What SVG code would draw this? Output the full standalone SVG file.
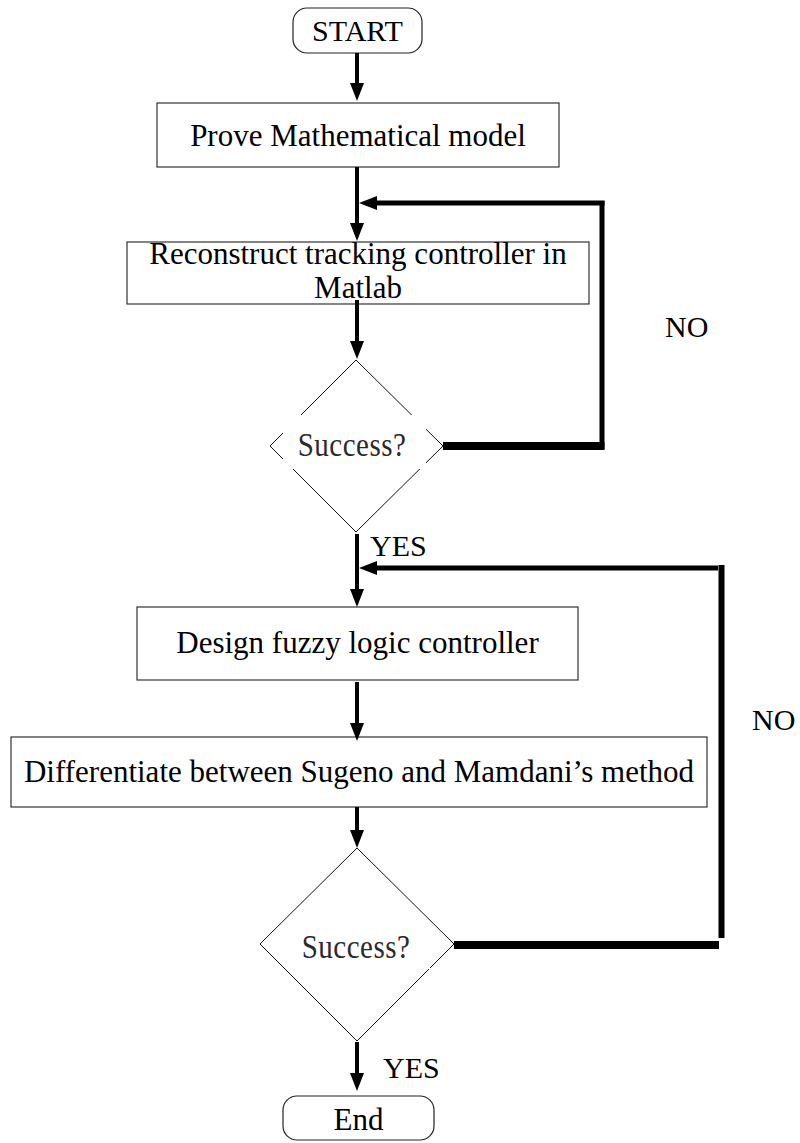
<svg xmlns="http://www.w3.org/2000/svg" width="800" height="1143" viewBox="0 0 800 1143">
<style>
.box{fill:#fff;stroke:#333;stroke-width:1.2}
.term{fill:#fff;stroke:#222;stroke-width:1.2}
.dia{fill:#fff;stroke:#111;stroke-width:1}
.lbl{font-family:"Liberation Serif","Times New Roman",serif;font-size:31px;fill:#000;text-anchor:middle}
.side{font-family:"Liberation Serif","Times New Roman",serif;font-size:30px;fill:#000}
.q{font-family:"Liberation Serif","Times New Roman",serif;font-size:29px;fill:#2a2a2a;text-anchor:middle;letter-spacing:0.5px}
.c{stroke:#000;fill:none;stroke-linecap:butt}
</style>
<defs>
<marker id="ah" markerUnits="userSpaceOnUse" markerWidth="18" markerHeight="14" refX="0" refY="7" orient="auto">
<path d="M0,0 L18,7 L0,14 z" fill="#000"/>
</marker>
</defs>
<rect width="800" height="1143" fill="#fff"/>
<g id="start">
<rect class="term" x="293" y="8" width="129" height="45" rx="14"/>
<text class="lbl" x="357.5" y="41" style="font-size:30px">START</text>
</g>
<g id="prove">
<rect class="box" x="157" y="103" width="402" height="64"/>
<text class="lbl" x="358" y="146">Prove Mathematical model</text>
</g>
<g id="reconstruct">
<rect class="box" x="127" y="242" width="462" height="62"/>
<text class="lbl" x="358" y="264">Reconstruct tracking controller in</text>
<text class="lbl" x="358" y="298">Matlab</text>
</g>
<g id="success1">
<polygon class="dia" points="356,360 443,446 356,532 270,446"/>
<rect x="283" y="415" width="143" height="54" fill="#fff"/>
<text class="q" transform="translate(352,456) scale(1,1.15)" x="0" y="0">Success?</text>
</g>
<g id="design">
<rect class="box" x="137" y="607" width="441" height="73"/>
<text class="lbl" x="357.5" y="653">Design fuzzy logic controller</text>
</g>
<g id="differentiate">
<rect class="box" x="11" y="737" width="696" height="70"/>
<text class="lbl" x="359" y="782">Differentiate between Sugeno and Mamdani’s method</text>
</g>
<g id="success2">
<polygon class="dia" points="357,848 454,944 357,1041 260,944"/>
<rect x="287" y="921" width="143" height="48" fill="#fff"/>
<text class="q" transform="translate(356,958) scale(1,1.15)" x="0" y="0">Success?</text>
</g>
<g id="end">
<rect class="term" x="283" y="1096" width="151" height="44" rx="14"/>
<text class="lbl" x="358.5" y="1130">End</text>
</g>
<g id="connectors">
<line class="c" x1="357" y1="53" x2="357" y2="83" stroke-width="4" marker-end="url(#ah)"/>
<line class="c" x1="357" y1="167" x2="357" y2="223" stroke-width="4" marker-end="url(#ah)"/>
<line class="c" x1="357" y1="300" x2="357" y2="341" stroke-width="4" marker-end="url(#ah)"/>
<line class="c" x1="604.5" y1="446" x2="443" y2="446" stroke-width="8"/>
<line class="c" x1="602" y1="449" x2="602" y2="201" stroke-width="5"/>
<line class="c" x1="604.5" y1="203" x2="377" y2="203" stroke-width="5" marker-end="url(#ah)"/>
<line class="c" x1="357" y1="534" x2="357" y2="589" stroke-width="4" marker-end="url(#ah)"/>
<line class="c" x1="454" y1="945" x2="719" y2="945" stroke-width="8"/>
<line class="c" x1="721.5" y1="938" x2="721.5" y2="565" stroke-width="6"/>
<line class="c" x1="718" y1="568" x2="377" y2="568" stroke-width="5" marker-end="url(#ah)"/>
<line class="c" x1="357" y1="682" x2="357" y2="723" stroke-width="4" marker-end="url(#ah)"/>
<line class="c" x1="357" y1="807" x2="357" y2="830" stroke-width="4" marker-end="url(#ah)"/>
<line class="c" x1="357" y1="1042" x2="357" y2="1073" stroke-width="4" marker-end="url(#ah)"/>
</g>
<text class="side" x="370" y="556">YES</text>
<text class="side" x="383" y="1078">YES</text>
<text class="side" x="665" y="337">NO</text>
<text class="side" x="752" y="730">NO</text>
</svg>
